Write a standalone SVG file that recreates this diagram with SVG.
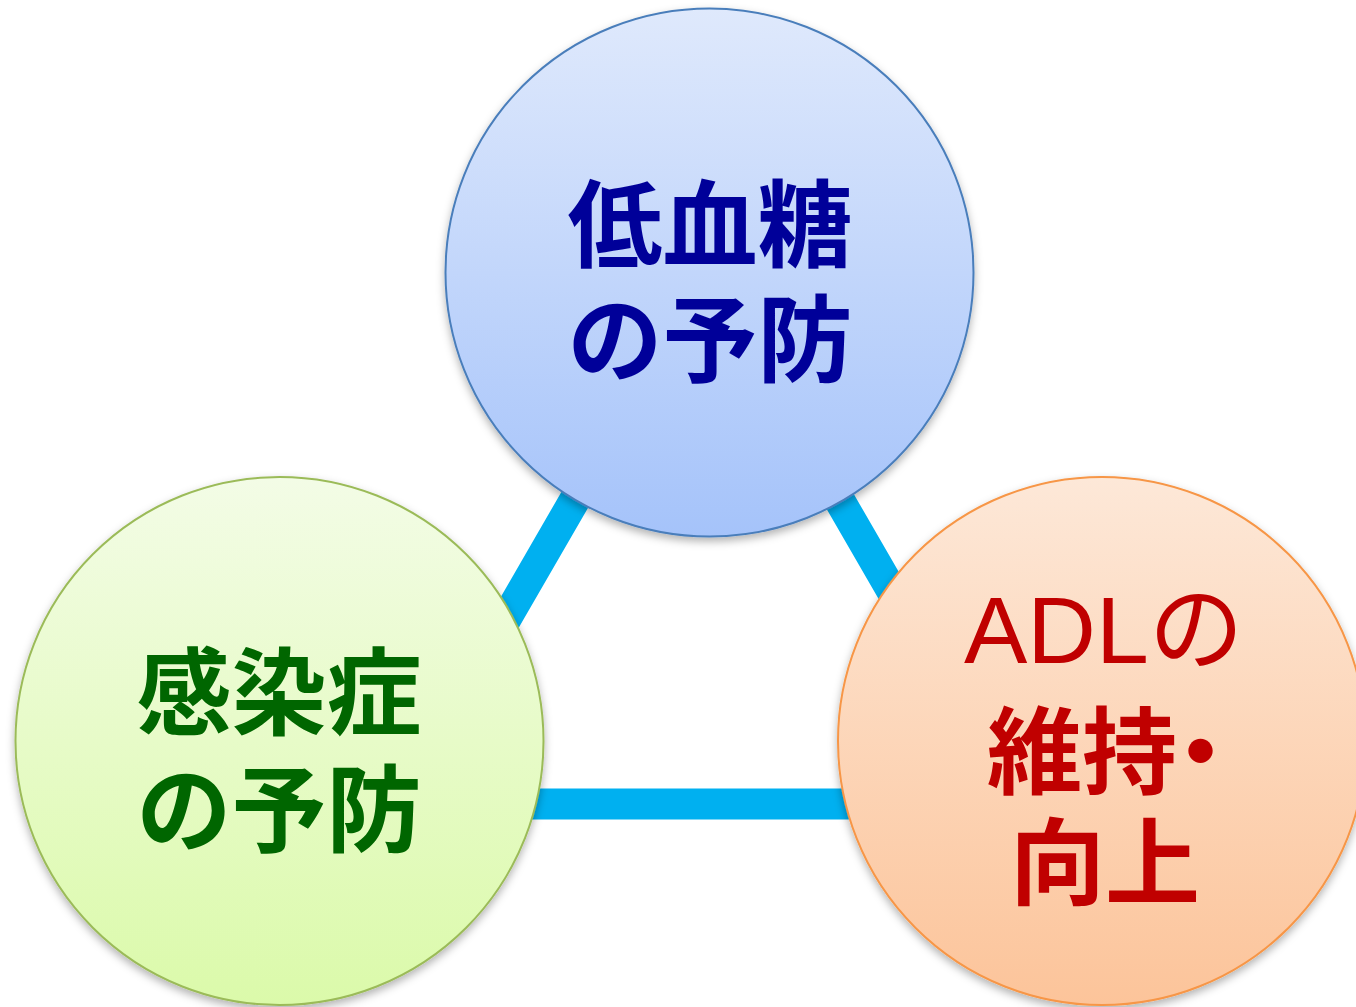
<svg xmlns="http://www.w3.org/2000/svg" width="1356" height="1007" viewBox="0 0 1356 1007">
<defs>
<linearGradient id="gBlue" x1="0" y1="0" x2="0" y2="1">
<stop offset="0" stop-color="#DFE9FC"/>
<stop offset="1" stop-color="#A5C3FA"/>
</linearGradient>
<linearGradient id="gGreen" x1="0" y1="0" x2="0" y2="1">
<stop offset="0" stop-color="#F3FCE6"/>
<stop offset="1" stop-color="#DBFAAA"/>
</linearGradient>
<linearGradient id="gOrange" x1="0" y1="0" x2="0" y2="1">
<stop offset="0" stop-color="#FDE8D8"/>
<stop offset="1" stop-color="#FCC49A"/>
</linearGradient>
<filter id="shadow" x="-10%" y="-10%" width="120%" height="125%">
<feDropShadow dx="0" dy="4" stdDeviation="4" flood-color="#000" flood-opacity="0.3"/>
</filter>
</defs>
<style>
.circle{stroke-width:2;filter:url(#shadow)}
.cjk{font-family:"Noto Sans CJK JP","Noto Sans CJK SC",sans-serif;font-weight:bold;font-size:95px;text-anchor:middle}
.latin{font-family:"Liberation Sans","Noto Sans CJK JP",sans-serif;font-weight:normal;font-size:95px}
</style>
<g id="connectors">
<polygon points="707,271 399,804 1015,804" fill="none" stroke="#00B0F0" stroke-width="31" stroke-linejoin="miter"/>
</g>
<g id="node-hypoglycemia">
<circle class="circle" cx="709.5" cy="272.5" r="264" fill="url(#gBlue)" stroke="#4A7EBB"/>
<text class="cjk" fill="#000099" x="710" y="260">低血糖</text>
<text class="cjk" fill="#000099" x="710" y="375">の予防</text>
</g>
<g id="node-infection">
<circle class="circle" cx="279.5" cy="741" r="264" fill="url(#gGreen)" stroke="#9BBB59"/>
<text class="cjk" fill="#006600" x="279" y="728">感染症</text>
<text class="cjk" fill="#006600" x="279" y="845">の予防</text>
</g>
<g id="node-adl">
<circle class="circle" cx="1102" cy="741" r="264" fill="url(#gOrange)" stroke="#F79646"/>
<text class="latin" fill="#C00000" x="964" y="663">ADL<tspan font-family="Noto Sans CJK JP, sans-serif">の</tspan></text>
<text class="cjk" fill="#C00000" x="987" y="787" text-anchor="start" style="text-anchor:start">維持<tspan dx="-24">・</tspan></text>
<text class="cjk" fill="#C00000" x="1105" y="898">向上</text>
</g>
</svg>
